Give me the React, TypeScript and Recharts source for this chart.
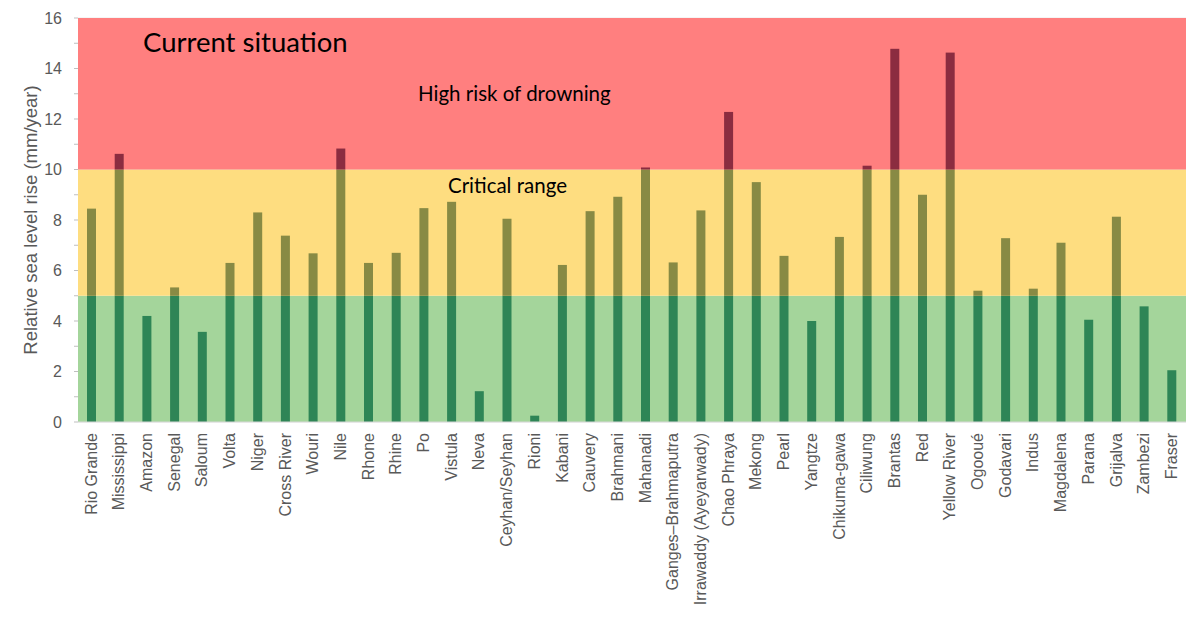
import React from 'react';
import { BarChart, Bar, XAxis, YAxis, CartesianGrid, ReferenceArea } from 'recharts';

const rivers = [
  'Rio Grande', 'Mississippi', 'Amazon', 'Senegal', 'Saloum', 'Volta', 'Niger', 'Cross River', 'Wouri', 'Nile',
  'Rhone', 'Rhine', 'Po', 'Vistula', 'Neva', 'Ceyhan/Seyhan', 'Rioni', 'Kabani', 'Cauvery', 'Brahmani',
  'Mahanadi', 'Ganges–Brahmaputra', 'Irrawaddy (Ayeyarwady)', 'Chao Phraya', 'Mekong', 'Pearl', 'Yangtze',
  'Chikuma-gawa', 'Ciliwung', 'Brantas', 'Red', 'Yellow River', 'Ogooué', 'Godavari', 'Indus', 'Magdalena',
  'Parana', 'Grijalva', 'Zambezi', 'Fraser',
];

const seaLevelRise = [
  8.45, 10.62, 4.2, 5.33, 3.57, 6.3, 8.3, 7.38, 6.68, 10.83,
  6.3, 6.7, 8.47, 8.72, 1.22, 8.05, 0.25, 6.22, 8.35, 8.92,
  10.08, 6.32, 8.38, 12.28, 9.5, 6.58, 4.0,
  7.33, 10.15, 14.78, 9.0, 14.63, 5.2, 7.28, 5.28, 7.1,
  4.05, 8.13, 4.58, 2.05,
];

const yTicks = [0, 1, 2, 3, 4, 5, 6, 7, 8, 9, 10, 11, 12, 13, 14, 15, 16];
const gridValues = [0, 2, 4, 6, 8, 10, 12, 14, 16];

// risk bands: [from, to, colour, bar colour inside the band]
const bands: [number, number, string, string][] = [
  [0, 5, '#a4d59b', '#2e8556'],
  [5, 10, '#fedd80', '#888a44'],
  [10, 16, '#ff7f7f', '#8b2c40'],
];

const data = rivers.map((river, i) => ({ river, rise: seaLevelRise[i] }));

const axisGrey = '#595959';
const textFont = 'Liberation Sans, Arial, sans-serif';

// bar split into the colour of each band it crosses
const BandBar = (props: any) => {
  const { x, y, width, height, value } = props;
  if (!height || !value) return null;
  const perUnit = height / value;
  const bottom = y + height;
  return (
    <g>
      {bands.map(([from, to, , fill]) => {
        if (value <= from) return null;
        const top = bottom - Math.min(value, to) * perUnit;
        const base = bottom - from * perUnit;
        return <rect key={from} x={x} y={top} width={width} height={base - top} fill={fill} />;
      })}
    </g>
  );
};

const RiverTick = ({ x, y, payload }: any) => (
  <g transform={`translate(${x},${y})`}>
    <text transform="rotate(-90)" x={0} y={0} dy="0.3em" textAnchor="end" fill={axisGrey}
      fontSize={16} fontFamily={textFont}>
      {payload.value}
    </text>
  </g>
);

const YTitle = ({ viewBox }: any) => {
  const cy = viewBox.y + viewBox.height / 2;
  return (
    <text x={30} y={cy} transform={`rotate(-90, 30, ${cy})`} textAnchor="middle" dominantBaseline="central"
      fill={axisGrey} fontSize={18.5} fontFamily={textFont}>
      Relative sea level rise (mm/year)
    </text>
  );
};

const note = (left: number, top: number, size: number): React.CSSProperties => ({
  position: 'absolute', left, top, fontFamily: 'Lato, sans-serif', fontSize: size, lineHeight: 1,
  color: '#000', whiteSpace: 'nowrap',
});

const App: React.FC = () => (
  <div style={{ position: 'absolute', left: 0, top: 0, width: 1200, height: 622, background: '#fff' }}>
    <BarChart width={1200} height={622} data={data} margin={{ top: 18, right: 14, left: 0, bottom: 0 }} barCategoryGap={0}>
      {bands.map(([from, to, fill]) => (
        <ReferenceArea key={from} y1={from} y2={to} fill={fill} fillOpacity={1} stroke="none" ifOverflow="hidden" />
      ))}
      <CartesianGrid vertical={false} horizontalValues={gridValues} stroke="#000" strokeOpacity={0.08} />
      <XAxis dataKey="river" interval={0} height={200} tick={<RiverTick />} tickLine={false}
        tickSize={0} tickMargin={11} axisLine={{ stroke: '#d9d9d9' }} />
      <YAxis width={78} domain={[0, 16]} ticks={yTicks} interval={0} allowDataOverflow
        tickFormatter={(v: number) => (v % 2 === 0 ? String(v) : '')}
        tick={{ fill: axisGrey, fontSize: 16, fontFamily: textFont }}
        tickLine={{ stroke: '#bfbfbf' }} tickSize={4} tickMargin={12} axisLine={false}
        label={<YTitle />} />
      <Bar dataKey="rise" barSize={9} shape={<BandBar />} isAnimationActive={false} />
    </BarChart>
    <div style={note(143, 28, 27.5)}>Current situation</div>
    <div style={note(418, 83, 20.5)}>High risk of drowning</div>
    <div style={note(448, 175, 20.5)}>Critical range</div>
  </div>
);

export default App;
